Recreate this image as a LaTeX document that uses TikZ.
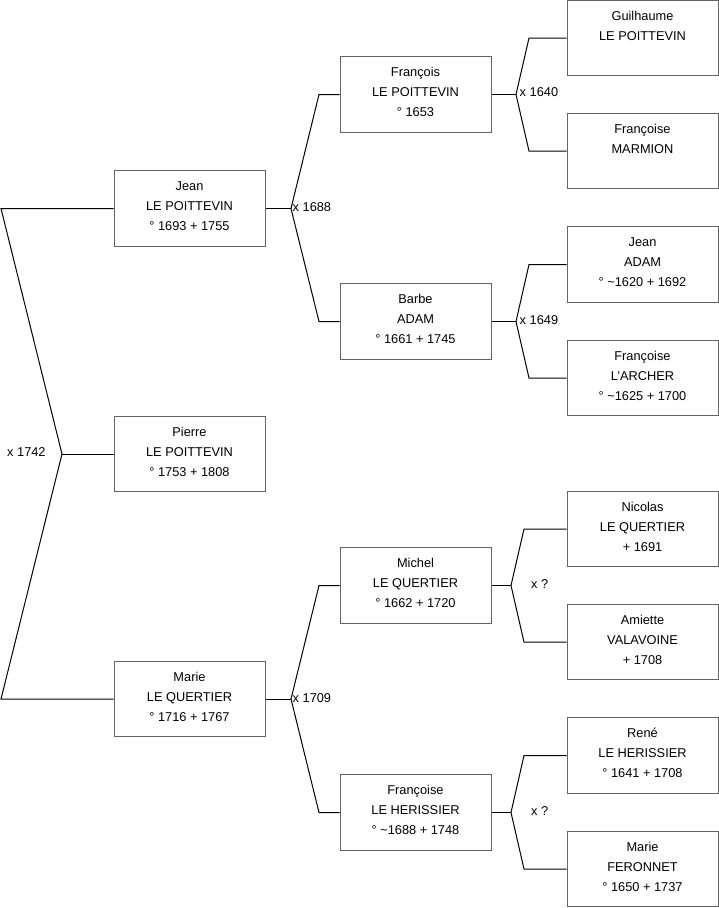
\documentclass[tikz,border=0pt]{standalone}
\usepackage{fontspec}
\setmainfont{Liberation Sans}
\definecolor{boxline}{RGB}{100,100,100}
\newcommand\lastln{\rule[-10pt]{0pt}{10pt}}
\begin{document}
\begin{tikzpicture}[x=1pt,y=-1pt,
  person/.style={draw=boxline,line width=1pt,fill=white,minimum width=151pt,minimum height=75.5pt,
    inner sep=0pt,align=center,font=\fontsize{12.8}{20}\selectfont},
  link/.style={draw=black,line width=1pt},
  marr/.style={anchor=west,inner sep=0pt,font=\fontsize{12.8}{14}\selectfont}]
\useasboundingbox (0,0) rectangle (719,908);
% generation 1
\node[person] (jean) at (189.5,208.5) {Jean\strut\\LE POITTEVIN\strut\\° 1693 + 1755\lastln};
\node[person] (pierre) at (189.5,454) {Pierre\strut\\LE POITTEVIN\strut\\° 1753 + 1808\lastln};
\node[person] (marie) at (189.5,699) {Marie\strut\\LE QUERTIER\strut\\° 1716 + 1767\lastln};
% generation 2
\node[person] (francois) at (415.5,94.5) {François\strut\\LE POITTEVIN\strut\\° 1653\lastln};
\node[person] (barbe) at (415.5,321.5) {Barbe\strut\\ADAM\strut\\° 1661 + 1745\lastln};
\node[person] (michel) at (415.5,585.5) {Michel\strut\\LE QUERTIER\strut\\° 1662 + 1720\lastln};
\node[person] (francoiseh) at (415.5,812.5) {Françoise\strut\\LE HERISSIER\strut\\° \textasciitilde1688 + 1748\lastln};
% generation 3
\node[person] (guilhaume) at (642.5,38) {Guilhaume\strut\\LE POITTEVIN\strut\\\lastln};
\node[person] (francoisem) at (642.5,151) {Françoise\strut\\MARMION\strut\\\lastln};
\node[person] (jeana) at (642.5,264.5) {Jean\strut\\ADAM\strut\\° \textasciitilde1620 + 1692\lastln};
\node[person] (francoisea) at (642.5,378) {Françoise\strut\\L'ARCHER\strut\\° \textasciitilde1625 + 1700\lastln};
\node[person] (nicolas) at (642.5,529) {Nicolas\strut\\LE QUERTIER\strut\\+ 1691\lastln};
\node[person] (amiette) at (642.5,642) {Amiette\strut\\VALAVOINE\strut\\+ 1708\lastln};
\node[person] (rene) at (642.5,755.5) {René\strut\\LE HERISSIER\strut\\° 1641 + 1708\lastln};
\node[person] (marief) at (642.5,869) {Marie\strut\\FERONNET\strut\\° 1650 + 1737\lastln};
% junction points
\coordinate (L1) at (1,208.5);
\coordinate (L2) at (62,454);
\coordinate (L3) at (1,699);
\coordinate (J0) at (291,208.5);
\coordinate (J1) at (319,94.5);
\coordinate (J2) at (319,321.5);
\coordinate (M0) at (291,699);
\coordinate (M1) at (319,585.5);
\coordinate (M2) at (319,812.5);
\coordinate (F0) at (516,94.5);
\coordinate (F1) at (529,38);
\coordinate (F2) at (529,151);
\coordinate (B0) at (516,321.5);
\coordinate (B1) at (529,264.5);
\coordinate (B2) at (529,378);
\coordinate (C0) at (511,585.5);
\coordinate (C1) at (524,529);
\coordinate (C2) at (524,642);
\coordinate (H0) at (511,812.5);
\coordinate (H1) at (524,755.5);
\coordinate (H2) at (524,869);
% connectors
\draw[link] (jean.west) -- (L1) -- (L2) -- (L3) -- (marie.west);
\draw[link] (L2) -- (pierre.west);
\draw[link] (jean.east) -- (J0);
\draw[link] (francois.west) -- (J1) -- (J0) -- (J2) -- (barbe.west);
\draw[link] (marie.east) -- (M0);
\draw[link] (michel.west) -- (M1) -- (M0) -- (M2) -- (francoiseh.west);
\draw[link] (francois.east) -- (F0);
\draw[link] (guilhaume.west) -- (F1) -- (F0) -- (F2) -- (francoisem.west);
\draw[link] (barbe.east) -- (B0);
\draw[link] (jeana.west) -- (B1) -- (B0) -- (B2) -- (francoisea.west);
\draw[link] (michel.east) -- (C0);
\draw[link] (nicolas.west) -- (C1) -- (C0) -- (C2) -- (amiette.west);
\draw[link] (francoiseh.east) -- (H0);
\draw[link] (rene.west) -- (H1) -- (H0) -- (H2) -- (marief.west);
% marriage labels
\node[marr] (m1742) at (7,452) {x 1742};
\node[marr] (m1688) at (292.5,207.5) {x 1688};
\node[marr] (m1709) at (292.5,698) {x 1709};
\node[marr] (m1640) at (519.5,92.5) {x 1640};
\node[marr] (m1649) at (519.5,320.5) {x 1649};
\node[marr] (mq1) at (531,584) {x ?};
\node[marr] (mq2) at (531,811) {x ?};
\end{tikzpicture}
\end{document}
